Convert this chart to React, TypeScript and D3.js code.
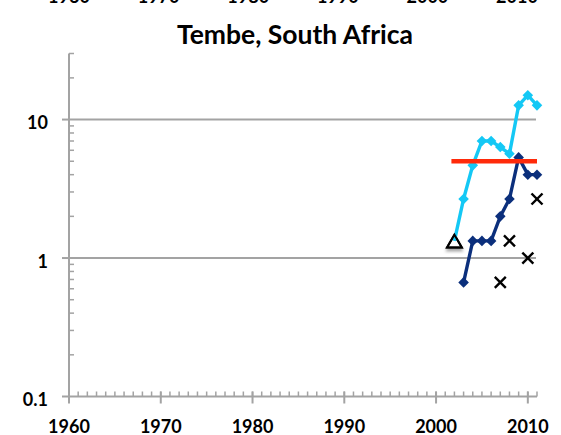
import React from "react";
import * as d3 from "d3";

const years = [2002, 2003, 2004, 2005, 2006, 2007, 2008, 2009, 2010, 2011];
const cyanValues = [1.33, 2.67, 4.67, 7.0, 7.0, 6.33, 5.67, 12.67, 15.0, 12.67];
const navyYears = [2003, 2004, 2005, 2006, 2007, 2008, 2009, 2010, 2011];
const navyValues = [0.667, 1.33, 1.33, 1.33, 2.0, 2.67, 5.33, 4.0, 4.0];
const crossYears = [2007, 2008, 2010, 2011];
const crossValues = [0.667, 1.33, 1.0, 2.67];
const triangleYears = [2002];
const triangleValues = [1.3];
const thresholdYears = [2002, 2011];
const thresholdValue = 5;
const xTickYears = [1960, 1970, 1980, 1990, 2000, 2010];
const yTickValues = [0.1, 1, 10];
const yTickLabels = ["0.1", "1", "10"];
const title = "Tembe, South Africa";

const W = 561;
const H = 435;
const FONT = "Lato, 'Open Sans', sans-serif";

export default function App() {
  const x = d3.scaleLinear().domain([1960, 2011]).range([69, 537]);
  const y = d3.scaleLog().domain([0.1, 30]).range([396.5, 53.5]);
  const left = 69;
  const right = 537;
  const bottom = y(0.1);

  const minorY: number[] = [];
  [0.1, 1, 10].forEach((d) => {
    for (let k = 2; k <= 9; k++) {
      const v = d * k;
      if (v <= 30.0001) minorY.push(v);
    }
  });
  const minorX = d3.range(1960, 2012);

  const line = d3
    .line<[number, number]>()
    .x((d) => x(d[0]))
    .y((d) => y(d[1]));

  const cyanPts: [number, number][] = years.map((yr, i) => [yr, cyanValues[i]]);
  const navyPts: [number, number][] = navyYears.map((yr, i) => [yr, navyValues[i]]);

  const diamond = d3.symbol().type(d3.symbolSquare).size(56)();
  const tri = d3.symbol().type(d3.symbolTriangle).size(95)();
  const cyan = "#14c8f5";
  const navy = "#0b2f7c";
  const gray = "#a3a3a3";

  return (
    <svg
      width={W}
      height={H}
      style={{ position: "absolute", left: 0, top: 0, background: "#fff" }}
      fontFamily={FONT}
    >
      <defs>
        <filter id="shadow" x="-50%" y="-50%" width="200%" height="200%">
          <feDropShadow dx="0" dy="3" stdDeviation="1.5" floodColor="#000" floodOpacity="0.35" />
        </filter>
      </defs>
      <rect width={W} height={H} fill="#fff" />
      {/* cut-off labels from chart above */}
      {xTickYears.map((yr, i) => (
        <text
          key={"top" + yr}
          x={69 + i * 89.6}
          y={3.3}
          textAnchor="middle"
          fontSize={18}
          fontWeight="bold"
          fill="#000"
        >
          {yr}
        </text>
      ))}
      <text x={295} y={44} textAnchor="middle" fontSize={26.5} fontWeight="bold" fill="#000">
        {title}
      </text>
      {/* gridlines */}
      {[1, 10].map((v) => (
        <line key={"g" + v} x1={left} x2={right - 1} y1={y(v)} y2={y(v)} stroke={gray} strokeWidth={2} />
      ))}
      {/* y axis */}
      <line x1={left} x2={left} y1={y(30)} y2={bottom + 6} stroke={gray} strokeWidth={2} />
      {minorY.map((v) => (
        <line key={"my" + v} x1={left} x2={left + 5} y1={y(v)} y2={y(v)} stroke={gray} strokeWidth={1.5} />
      ))}
      {yTickValues.map((v) => (
        <line key={"My" + v} x1={left - 7} x2={left} y1={y(v)} y2={y(v)} stroke={gray} strokeWidth={2} />
      ))}
      {yTickValues.map((v, i) => (
        <text key={"yl" + v} x={48} y={y(v) + 9.5} textAnchor="end" fontSize={18} fontWeight="bold" fill="#000">
          {yTickLabels[i]}
        </text>
      ))}
      {/* x axis */}
      <line x1={left} x2={right} y1={bottom} y2={bottom} stroke={gray} strokeWidth={2} />
      {minorX.map((yr) => (
        <line key={"mx" + yr} x1={x(yr)} x2={x(yr)} y1={bottom - 5} y2={bottom} stroke={gray} strokeWidth={1.5} />
      ))}
      {xTickYears.map((yr) => (
        <line key={"Mx" + yr} x1={x(yr)} x2={x(yr)} y1={bottom - 5} y2={bottom + 7} stroke={gray} strokeWidth={2} />
      ))}
      {xTickYears.map((yr) => (
        <text key={"xl" + yr} x={x(yr)} y={433} textAnchor="middle" fontSize={18} fontWeight="bold" fill="#000">
          {yr}
        </text>
      ))}
      {/* triangle marker */}
      {triangleYears.map((yr, i) => (
        <path
          key={"t" + yr}
          d={tri || ""}
          transform={`translate(${x(yr)},${y(triangleValues[i]) + 1})`}
          fill="#fff"
          stroke="#000"
          strokeWidth={2}
          filter="url(#shadow)"
        />
      ))}
      {/* cyan series */}
      <path d={line(cyanPts) || ""} fill="none" stroke={cyan} strokeWidth={3.4} />
      {cyanPts.slice(1).map((p) => (
        <path
          key={"c" + p[0]}
          d={diamond || ""}
          transform={`translate(${x(p[0])},${y(p[1])}) rotate(45)`}
          fill={cyan}
        />
      ))}
      {/* triangle outline on top */}
      {triangleYears.map((yr, i) => (
        <path
          key={"t2" + yr}
          d={tri || ""}
          transform={`translate(${x(yr)},${y(triangleValues[i]) + 1})`}
          fill="none"
          stroke="#000"
          strokeWidth={2}
        />
      ))}
      {/* navy series */}
      <path d={line(navyPts) || ""} fill="none" stroke={navy} strokeWidth={3.4} />
      {navyPts.map((p) => (
        <path
          key={"n" + p[0]}
          d={diamond || ""}
          transform={`translate(${x(p[0])},${y(p[1])}) rotate(45)`}
          fill={navy}
        />
      ))}
      {/* threshold */}
      <line
        x1={x(thresholdYears[0]) - 3}
        x2={x(thresholdYears[1])}
        y1={y(thresholdValue)}
        y2={y(thresholdValue)}
        stroke="#ff2a0a"
        strokeWidth={4.5}
      />
      {/* crosses */}
      {crossYears.map((yr, i) => {
        const cx = x(yr);
        const cy = y(crossValues[i]);
        const s = 5.5;
        return (
          <g key={"x" + yr} stroke="#000" strokeWidth={2.4}>
            <line x1={cx - s} x2={cx + s} y1={cy - s} y2={cy + s} />
            <line x1={cx - s} x2={cx + s} y1={cy + s} y2={cy - s} />
          </g>
        );
      })}
    </svg>
  );
}
